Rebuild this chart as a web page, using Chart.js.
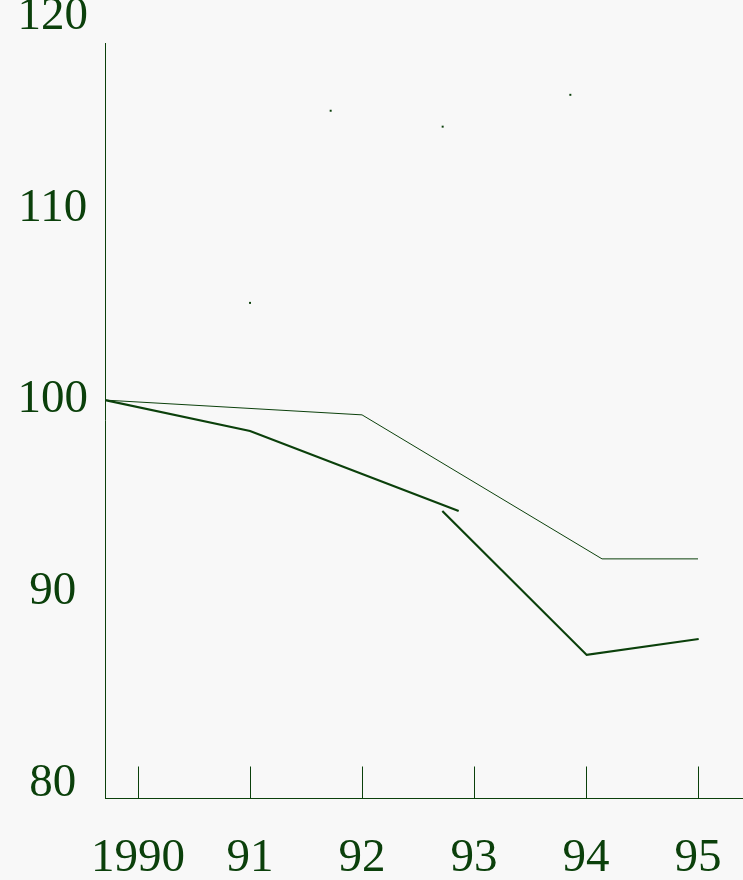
<!DOCTYPE html>
<html>
<head>
<meta charset="utf-8">
<style>
  html, body { margin: 0; padding: 0; background: #f8f8f8; }
  #wrap { width: 743px; height: 880px; }
</style>
<script src="https://cdn.jsdelivr.net/npm/chart.js"></script>
</head>
<body>
<div id="wrap"><canvas id="c" width="743" height="880"></canvas></div>
<script>
// tick labels
const YEARS = [1990, 1991, 1992, 1993, 1994, 1995];
const X_LABELS = ['1990', '91', '92', '93', '94', '95'];
const Y_TICKS = [80, 90, 100, 110, 120];

// thin line
const THIN_X = [1989.705, 1992.0, 1994.143, 1995.0];
const THIN_Y = [100.0, 99.23, 91.72, 91.72];

// thick line, two pieces
const THICK_A_X = [1989.705, 1991.0, 1992.863];
const THICK_A_Y = [100.0, 98.39, 94.22];
const THICK_B_X = [1992.717, 1994.006, 1995.006];
const THICK_B_Y = [94.22, 86.71, 87.54];

// loose dots
const DOT_X = [1991.0, 1991.72, 1992.72, 1993.86];
const DOT_Y = [105.07, 115.09, 114.26, 115.92];

const GREEN = '#0b400b';
const FONT = { family: "'Liberation Serif', 'Times New Roman', serif", size: 47 };

const pts = (xs, ys) => xs.map((x, i) => ({ x: x, y: ys[i] }));

// axis lines (y shorter than the plot, x running to the edge) and upward ticks
const axisMarks = {
  id: 'axisMarks',
  afterDraw(chart) {
    const ctx = chart.ctx;
    const area = chart.chartArea;
    const xs = chart.scales.x;
    const yb = Math.round(area.bottom) + 0.5;
    ctx.save();
    ctx.strokeStyle = GREEN;
    ctx.lineWidth = 1;
    ctx.beginPath();
    ctx.moveTo(area.left + 0.5, yb);
    ctx.lineTo(area.left + 0.5, 43);
    ctx.moveTo(area.left, yb);
    ctx.lineTo(chart.width, yb);
    xs.ticks.forEach(t => {
      const px = Math.round(xs.getPixelForValue(t.value)) + 0.5;
      ctx.moveTo(px, yb);
      ctx.lineTo(px, yb - 32);
    });
    ctx.stroke();
    ctx.restore();
  }
};

new Chart(document.getElementById('c'), {
  type: 'line',
  data: {
    datasets: [
      { data: pts(THIN_X, THIN_Y), borderColor: GREEN, borderWidth: 1, pointRadius: 0, tension: 0 },
      { data: pts(THICK_A_X, THICK_A_Y), borderColor: GREEN, borderWidth: 2.2, pointRadius: 0, tension: 0 },
      { data: pts(THICK_B_X, THICK_B_Y), borderColor: GREEN, borderWidth: 2.2, pointRadius: 0, tension: 0 },
      { data: pts(DOT_X, DOT_Y), showLine: false, pointStyle: 'rect', pointRadius: 1.4,
        backgroundColor: GREEN, borderWidth: 0 }
    ]
  },
  options: {
    responsive: false,
    animation: false,
    layout: { padding: { top: 7, right: 0, left: 0, bottom: 0 } },
    plugins: { legend: { display: false }, tooltip: { enabled: false } },
    scales: {
      x: {
        type: 'linear',
        min: 1989.705,
        max: 1995.366,
        afterBuildTicks: s => { s.ticks = YEARS.map(v => ({ value: v })); },
        afterFit: s => { s.height = 82; s.paddingLeft = 0; s.paddingRight = 0; },
        grid: { display: false, drawTicks: false },
        border: { display: false },
        ticks: {
          color: GREEN, font: FONT, padding: 32, maxRotation: 0, autoSkip: false,
          callback: (v) => X_LABELS[YEARS.indexOf(v)]
        }
      },
      y: {
        min: 79.25,
        max: 120.5,
        afterBuildTicks: s => { s.ticks = Y_TICKS.map(v => ({ value: v })); },
        afterFit: s => { s.width = 105; s.paddingTop = 0; s.paddingBottom = 0; },
        grid: { display: false, drawTicks: false },
        border: { display: false },
        ticks: { color: GREEN, font: FONT, padding: 17, crossAlign: 'center', autoSkip: false }
      }
    }
  },
  plugins: [axisMarks]
});
</script>
</body>
</html>
